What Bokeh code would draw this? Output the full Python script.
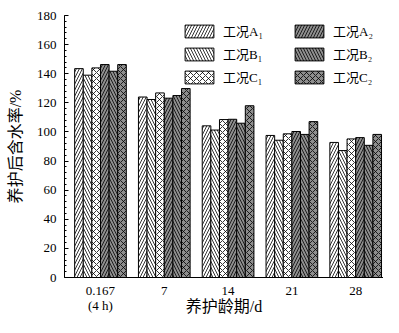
from bokeh.plotting import figure
from bokeh.models import (ColumnDataSource, Range1d, FixedTicker, SingleIntervalTicker,
                          Legend, LegendItem)
from bokeh.transform import dodge
from bokeh.embed import file_html
from bokeh.resources import INLINE

# ---- data ----
ages = ["0.167\n(4 h)", "7", "14", "21", "28"]
series_names = ["工况A₁", "工况B₁", "工况C₁", "工况A₂", "工况B₂", "工况C₂"]
A1 = [143.5, 124.0, 104.2, 97.6, 92.8]
B1 = [139.0, 122.3, 101.3, 94.3, 87.2]
C1 = [144.0, 126.8, 108.5, 98.7, 95.2]
A2 = [146.3, 123.2, 108.7, 100.3, 96.1]
B2 = [141.7, 125.0, 106.0, 98.3, 90.8]
C2 = [146.3, 129.8, 118.0, 107.1, 98.3]
x_title = "养护龄期/d"
y_title = "养护后含水率/%"

fills = ["white", "white", "white", "#8e8e8e", "#8e8e8e", "#8e8e8e"]
hatches = ["/", "\\", "x", "/", "\\", "x"]

FONT = "'Liberation Serif', 'Noto Sans CJK SC'"
NUMFONT = "Liberation Serif"

xi = list(range(1, len(ages) + 1))
src = ColumnDataSource(dict(xi=xi, A1=A1, B1=B1, C1=C1, A2=A2, B2=B2, C2=C2))
keys = ["A1", "B1", "C1", "A2", "B2", "C2"]

p = figure(width=383, height=317, output_backend="svg", toolbar_location=None,
           x_range=Range1d(0.436, 5.436), y_range=Range1d(0, 180),
           min_border_left=64, min_border_right=0, min_border_top=15, min_border_bottom=37)
p.outline_line_color = None
p.xgrid.visible = False
p.ygrid.visible = False
p.background_fill_color = "white"
p.border_fill_color = "white"

bw = 0.135
renderers = []
for j, k in enumerate(keys):
    off = (j - 2.5) * bw
    r = p.vbar(x=dodge("xi", off, range=p.x_range), top=k, width=bw, source=src,
               fill_color=fills[j], line_color="black", line_width=1,
               hatch_pattern=hatches[j], hatch_color="black", hatch_scale=6,
               hatch_weight=0.8)
    renderers.append(r)

# axes
xa = p.xaxis[0]
xa.ticker = FixedTicker(ticks=xi)
xa.major_label_overrides = {i: lab for i, lab in zip(xi, ages)}
xa.major_tick_in = 0
xa.major_tick_out = 0
xa.minor_tick_line_color = None
xa.major_label_text_font = NUMFONT
xa.major_label_text_font_size = "13px"
xa.major_label_text_line_height = 1.0
xa.major_label_text_color = "black"
xa.major_label_standoff = 5
xa.axis_label = x_title
xa.axis_label_text_font = FONT
xa.axis_label_text_font_size = "16px"
xa.axis_label_text_font_style = "normal"
xa.axis_label_text_line_height = 1.0
xa.axis_label_text_color = "black"
xa.axis_label_standoff = -18
xa.axis_line_color = "black"

ya = p.yaxis[0]
ya.ticker = SingleIntervalTicker(interval=20, num_minor_ticks=5)
ya.major_tick_in = 4
ya.major_tick_out = 0
ya.minor_tick_in = 2
ya.minor_tick_out = 0
ya.major_tick_line_color = "black"
ya.minor_tick_line_color = "black"
ya.major_label_text_font = NUMFONT
ya.major_label_text_font_size = "13px"
ya.major_label_text_color = "black"
ya.major_label_standoff = 8
ya.axis_label = y_title
ya.axis_label_text_font = FONT
ya.axis_label_text_font_size = "16px"
ya.axis_label_text_font_style = "normal"
ya.axis_label_text_color = "black"
ya.axis_label_standoff = 10
ya.axis_line_color = "black"

def mk_legend(idx, x, y):
    items = [LegendItem(label=series_names[i], renderers=[renderers[i]]) for i in idx]
    lg = Legend(items=items, location=(x, y), orientation="vertical",
                glyph_width=36, glyph_height=16, label_height=16, spacing=4,
                label_standoff=6, padding=0, margin=0,
                border_line_color=None, background_fill_alpha=0,
                label_text_font=FONT, label_text_font_size="13px",
                label_text_color="black")
    return lg

p.add_layout(mk_legend([0, 1, 2], 117, 191))
p.add_layout(mk_legend([3, 4, 5], 227, 191))

open("out.html", "w").write(file_html(p, INLINE))
